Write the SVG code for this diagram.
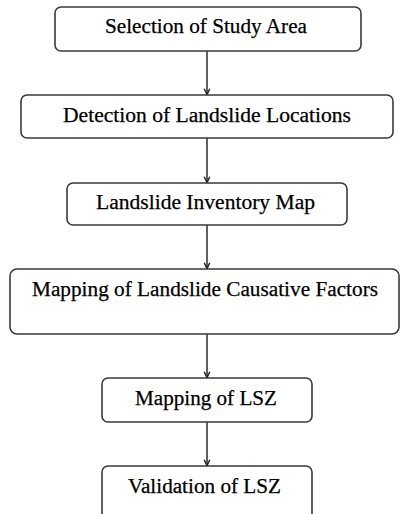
<svg xmlns="http://www.w3.org/2000/svg" width="401" height="514" viewBox="0 0 401 514">
<defs>
<style>
.box{fill:#fff;stroke:#3a3a3a;stroke-width:1.6}
.lbl{font-family:"Liberation Serif","Times New Roman",serif;font-size:20.5px;fill:#000;stroke:#000;stroke-width:0.25;text-anchor:middle}
.con{stroke:#3a3a3a;stroke-width:1.6;fill:none}
</style>
<marker id="ah" viewBox="0 0 10 10" refX="10" refY="5" markerWidth="7" markerHeight="9" markerUnits="userSpaceOnUse" orient="auto">
<path d="M1,1 L9.5,5 L1,9" fill="none" stroke="#222" stroke-width="2"/>
</marker>
</defs>
<rect width="401" height="514" fill="#fff"/>
<g id="connectors">
<line class="con" x1="207" y1="51" x2="207" y2="95" marker-end="url(#ah)"/>
<line class="con" x1="207" y1="138" x2="207" y2="183" marker-end="url(#ah)"/>
<line class="con" x1="207" y1="225" x2="207" y2="269" marker-end="url(#ah)"/>
<line class="con" x1="207" y1="334" x2="207" y2="378" marker-end="url(#ah)"/>
<line class="con" x1="207" y1="422" x2="207" y2="466" marker-end="url(#ah)"/>
</g>
<g id="n1"><rect class="box" x="55" y="7" width="306" height="44" rx="6"/><text class="lbl" x="206" y="33" textLength="202" lengthAdjust="spacingAndGlyphs">Selection of Study Area</text></g>
<g id="n2"><rect class="box" x="21" y="95" width="372" height="43" rx="6"/><text class="lbl" x="207" y="122" textLength="288" lengthAdjust="spacingAndGlyphs">Detection of Landslide Locations</text></g>
<g id="n3"><rect class="box" x="67" y="183" width="280" height="42" rx="6"/><text class="lbl" x="205.5" y="208.5" textLength="219" lengthAdjust="spacingAndGlyphs">Landslide Inventory Map</text></g>
<g id="n4"><rect class="box" x="10" y="269" width="389" height="65" rx="7"/><text class="lbl" x="205" y="296" textLength="346" lengthAdjust="spacingAndGlyphs">Mapping of Landslide Causative Factors</text></g>
<g id="n5"><rect class="box" x="102" y="378" width="210" height="44" rx="6"/><text class="lbl" x="206" y="404.5" textLength="142" lengthAdjust="spacingAndGlyphs">Mapping of LSZ</text></g>
<g id="n6"><rect class="box" x="102" y="466" width="210" height="56" rx="6"/><text class="lbl" x="204.5" y="492.5" textLength="153" lengthAdjust="spacingAndGlyphs">Validation of LSZ</text></g>
</svg>
